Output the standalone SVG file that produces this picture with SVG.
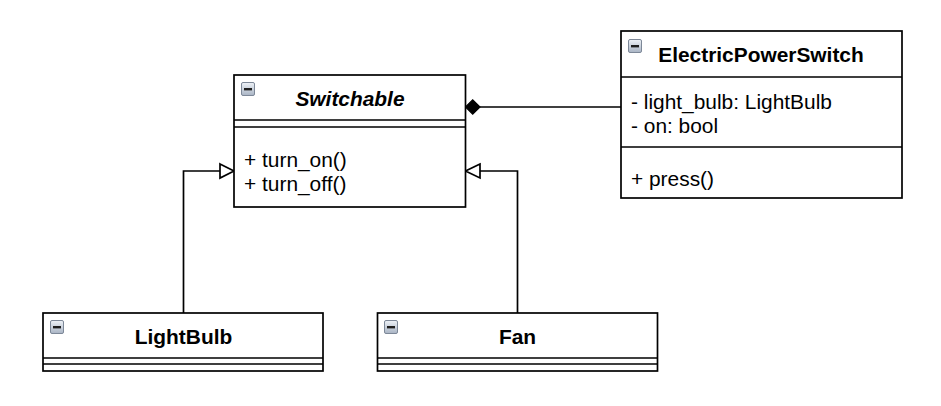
<svg xmlns="http://www.w3.org/2000/svg" width="941" height="406" viewBox="0 0 941 406">
<defs>
<linearGradient id="ig" x1="0" y1="0" x2="0" y2="1">
<stop offset="0" stop-color="#eef2f7"/>
<stop offset="1" stop-color="#a9b4c4"/>
</linearGradient>
<g id="icon">
<rect x="0.5" y="0.5" width="13" height="13" rx="1.5" fill="url(#ig)" stroke="#7d8898" stroke-width="1"/>
<rect x="3" y="6" width="8" height="2.4" fill="#1e1e1e"/>
</g>
</defs>
<style>
.box{fill:#ffffff;stroke:#000000;stroke-width:1.7}
.div{stroke:#000000;stroke-width:1.7;fill:none}
.t{font-family:"Liberation Sans",Arial,Helvetica,sans-serif;font-size:20.9px;fill:#000000}
.h{font-weight:bold;text-anchor:middle}
.i{font-style:italic}
.edge{fill:none;stroke:#000000;stroke-width:1.7}
</style>
<rect width="941" height="406" fill="#ffffff"/>

<g id="connectors">
<path class="edge" d="M621,107 H480"/>
<polygon points="465.5,107 472.7,99.8 480,107 472.7,114.2" fill="#000000" stroke="#000000" stroke-width="1.2"/>
<path class="edge" d="M183.5,313 V171 H220"/>
<polygon points="220,164 234,171 220,178" fill="#ffffff" stroke="#000000" stroke-width="1.7"/>
<path class="edge" d="M517.5,313 V171 H480"/>
<polygon points="480,164 465.5,171 480,178" fill="#ffffff" stroke="#000000" stroke-width="1.7"/>
</g>

<g id="switchable">
<rect class="box" x="234" y="75" width="231.5" height="132"/>
<path class="div" d="M234,120 H465.5 M234,127 H465.5"/>
<use href="#icon" x="241" y="82"/>
<text class="t h i" x="350" y="106">Switchable</text>
<text class="t" x="244" y="167">+ turn_on()</text>
<text class="t" x="244" y="191">+ turn_off()</text>
</g>

<g id="electricpowerswitch">
<rect class="box" x="621" y="31" width="281" height="167"/>
<path class="div" d="M621,77 H902 M621,147 H902"/>
<use href="#icon" x="628" y="39"/>
<text class="t h" x="761" y="62">ElectricPowerSwitch</text>
<text class="t" x="631" y="109">- light_bulb: LightBulb</text>
<text class="t" x="631" y="133">- on: bool</text>
<text class="t" x="631" y="186">+ press()</text>
</g>

<g id="lightbulb">
<rect class="box" x="43" y="313" width="280" height="58"/>
<path class="div" d="M43,358 H323 M43,364 H323"/>
<use href="#icon" x="50" y="320"/>
<text class="t h" x="183.5" y="344">LightBulb</text>
</g>

<g id="fan">
<rect class="box" x="377.5" y="313" width="280" height="58"/>
<path class="div" d="M377.5,358 H657.5 M377.5,364 H657.5"/>
<use href="#icon" x="384" y="320"/>
<text class="t h" x="517.5" y="344">Fan</text>
</g>
</svg>
